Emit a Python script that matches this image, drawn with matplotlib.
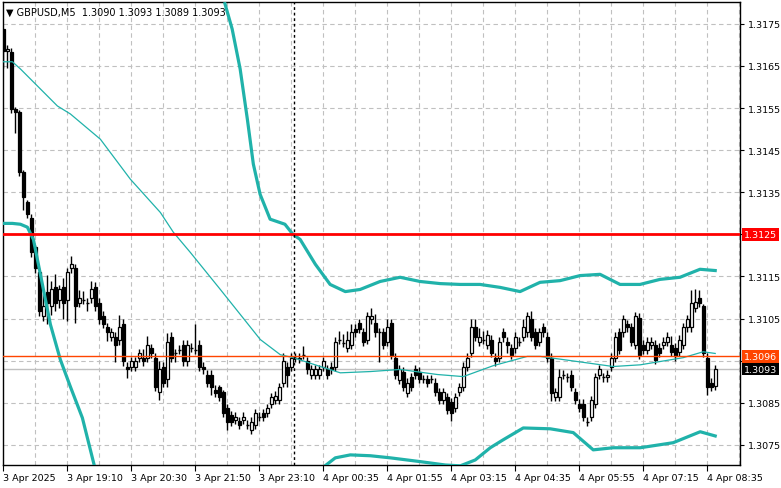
import matplotlib
matplotlib.use("Agg")
import matplotlib.pyplot as plt
import numpy as np

# GBPUSD M5 candles
opens = [
    1.31738, 1.31686, 1.31683, 1.31548, 1.31540, 1.31398, 1.31326, 1.31288, 1.31219, 1.31160,
    1.31055, 1.31114, 1.31079, 1.31126, 1.31095, 1.31126, 1.31095, 1.31169, 1.31169, 1.31088,
    1.31095, 1.31088, 1.31098, 1.31126, 1.31088, 1.31057, 1.31029, 1.31007, 1.31007, 1.30998,
    1.31038, 1.30936, 1.30936, 1.30936, 1.30957, 1.30957, 1.30957, 1.30979, 1.30957, 1.30876,
    1.30936, 1.30907, 1.31007, 1.30967, 1.30976, 1.30988, 1.30948, 1.30981, 1.30976, 1.30988,
    1.30936, 1.30917, 1.30917, 1.30881, 1.30888, 1.30876, 1.30838, 1.30821, 1.30810, 1.30807,
    1.30810, 1.30798, 1.30786, 1.30798, 1.30817, 1.30826, 1.30826, 1.30848, 1.30857, 1.30857,
    1.30898, 1.30936, 1.30936, 1.30957, 1.30957, 1.30964, 1.30948, 1.30917, 1.30917, 1.30917,
    1.30936, 1.30929, 1.30936, 1.30936, 1.31000, 1.30993, 1.30981, 1.30988, 1.31026, 1.31040,
    1.31017, 1.31000, 1.31048, 1.31040, 1.31017, 1.31017, 1.30995, 1.31040, 1.30957, 1.30905,
    1.30924, 1.30874, 1.30910, 1.30929, 1.30924, 1.30907, 1.30907, 1.30907, 1.30898, 1.30876,
    1.30857, 1.30864, 1.30852, 1.30838, 1.30876, 1.30888, 1.30936, 1.30969, 1.31029, 1.30995,
    1.31000, 1.30988, 1.31000, 1.30957, 1.30957, 1.31017, 1.30995, 1.30979, 1.30979, 1.30995,
    1.31007, 1.31017, 1.31048, 1.31017, 1.30995, 1.31029, 1.31007, 1.30957, 1.30864, 1.30864,
    1.30917, 1.30910, 1.30917, 1.30876, 1.30848, 1.30848, 1.30805, 1.30817, 1.30848, 1.30917,
    1.30910, 1.30910, 1.30936, 1.30957, 1.31017, 1.31017, 1.31036, 1.31029, 1.30988, 1.31052,
    1.30988, 1.30976, 1.30988, 1.30988, 1.30981, 1.30988, 1.30995, 1.30988, 1.30981, 1.30971,
    1.30988, 1.31029, 1.31029, 1.31076, 1.31098, 1.31079, 1.30957, 1.30898, 1.30890,
]
closes = [
    1.31686, 1.31690, 1.31548, 1.31540, 1.31398, 1.31338, 1.31298, 1.31207, 1.31169, 1.31067,
    1.31079, 1.31088, 1.31119, 1.31088, 1.31119, 1.31088, 1.31160, 1.31179, 1.31079, 1.31098,
    1.31095, 1.31088, 1.31119, 1.31079, 1.31048, 1.31038, 1.31017, 1.31017, 1.30986, 1.31029,
    1.30948, 1.30929, 1.30948, 1.30948, 1.30967, 1.30948, 1.30988, 1.30967, 1.30888, 1.30929,
    1.30898, 1.30995, 1.30957, 1.30967, 1.30976, 1.30948, 1.30988, 1.30981, 1.30976, 1.30936,
    1.30929, 1.30898, 1.30888, 1.30874, 1.30864, 1.30826, 1.30805, 1.30805, 1.30817, 1.30798,
    1.30817, 1.30798, 1.30805, 1.30826, 1.30817, 1.30817, 1.30838, 1.30864, 1.30867, 1.30888,
    1.30948, 1.30917, 1.30957, 1.30957, 1.30955, 1.30964, 1.30929, 1.30929, 1.30929, 1.30929,
    1.30948, 1.30917, 1.30929, 1.30995, 1.31000, 1.30993, 1.31000, 1.31017, 1.31017, 1.31026,
    1.30995, 1.31055, 1.31055, 1.31017, 1.31017, 1.30988, 1.31029, 1.30964, 1.30917, 1.30929,
    1.30888, 1.30898, 1.30888, 1.30917, 1.30907, 1.30907, 1.30898, 1.30907, 1.30876, 1.30857,
    1.30876, 1.30833, 1.30826, 1.30864, 1.30888, 1.30936, 1.30957, 1.31029, 1.31007, 1.31007,
    1.31000, 1.31012, 1.30969, 1.30948, 1.30995, 1.31005, 1.30988, 1.30964, 1.31007, 1.30995,
    1.31029, 1.31055, 1.31007, 1.30988, 1.31017, 1.31017, 1.30957, 1.30874, 1.30876, 1.30910,
    1.30917, 1.30910, 1.30888, 1.30857, 1.30838, 1.30817, 1.30805, 1.30857, 1.30910, 1.30929,
    1.30910, 1.30917, 1.30957, 1.31007, 1.30976, 1.31048, 1.31029, 1.30995, 1.31055, 1.30964,
    1.30976, 1.30995, 1.30995, 1.30952, 1.30969, 1.30995, 1.31007, 1.30971, 1.30960, 1.31000,
    1.31029, 1.31048, 1.31088, 1.31090, 1.31088, 1.30969, 1.30888, 1.30888, 1.30930,
]
# wick lengths in pips above / below the body
wick_up = [
    0, 1, 1, 0.5, 0.5, 0.5, 0.5, 1, 0.5, 1,
    3, 4, 2, 3, 1, 2, 1, 2, 1, 2,
    2, 1, 2, 1, 1, 1, 1, 1, 1, 3,
    1, 1, 1, 1, 1, 2, 2, 1, 1, 2,
    1, 2, 1, 1, 1, 1, 1, 1, 6, 1,
    1, 1, 1, 1, 0.5, 0.5, 1, 1, 1, 1,
    1, 1, 1, 1, 1, 1, 1, 1, 1, 1,
    2, 1, 1, 1, 1, 2, 1, 1, 1, 1,
    1, 1, 1, 1, 2, 2, 2, 2, 1, 1,
    1, 1, 2, 2, 1, 1, 2, 1, 1, 1,
    1, 1, 1, 1, 1, 1, 1, 1, 1, 1,
    1, 1, 1, 1, 1, 1, 1, 2, 2, 2,
    2, 1, 1, 1, 1, 1, 1, 1, 1, 1,
    2, 1, 2, 1, 1, 1, 1, 1, 1, 2,
    1, 1, 1, 1, 1, 1, 1, 1, 1, 1,
    1, 1, 1, 1, 1, 1, 1, 1, 1, 1,
    1, 1, 1, 1, 1, 1, 1, 2, 1, 1,
    1, 1, 3, 3, 2, 0.5, 1, 1, 1,
]
wick_dn = [
    4, 4, 1, 5, 1, 3, 1, 1, 1, 1,
    1, 5, 2, 2, 2, 4, 5, 1, 4, 1,
    1, 2, 1, 1, 1, 1, 2, 1, 4, 1,
    1, 2, 1, 1, 1, 1, 1, 1, 1, 2,
    1, 2, 1, 2, 1, 1, 1, 1, 1, 1,
    1, 1, 2, 1, 1, 1, 2, 1, 1, 1,
    1, 1, 1, 1, 1, 1, 1, 1, 1, 1,
    1, 3, 1, 1, 1, 1, 1, 1, 1, 1,
    1, 1, 1, 1, 1, 1, 1, 1, 1, 1,
    1, 1, 1, 1, 7, 1, 1, 1, 1, 1,
    1, 1, 1, 1, 1, 1, 1, 1, 1, 1,
    1, 1, 2, 1, 1, 1, 1, 1, 1, 1,
    1, 1, 1, 1, 1, 1, 2, 1, 1, 1,
    1, 1, 1, 1, 1, 1, 1, 2, 1, 1,
    1, 1, 1, 1, 1, 1, 1, 1, 1, 1,
    1, 1, 1, 1, 1, 1, 1, 1, 1, 1,
    1, 1, 1, 1, 1, 1, 1, 1, 1, 1,
    1, 1, 1, 1, 1, 1, 2, 1, 1,
]

# Bollinger bands sampled along the chart (bar index, price)
upper_idx = [55.4, 57.2, 59.2, 61, 62.5, 64.2, 66.7, 70.4, 72.4, 74.2, 78, 81.7, 85.5, 89.2, 94.2,
             99.2, 104.2, 109.2, 114.2, 119.2, 124.2, 129.2, 134.2, 139.2, 144.2, 149.2, 154.2,
             159.2, 164.2, 169.2, 174.2, 178]
upper_val = [1.31798, 1.31738, 1.31643, 1.31524, 1.31417, 1.31345, 1.31286, 1.31274, 1.31250,
             1.31238, 1.31179, 1.31131, 1.31114, 1.31119, 1.31138, 1.31148, 1.31138, 1.31133,
             1.31131, 1.31131, 1.31124, 1.31114, 1.31136, 1.31140, 1.31152, 1.31155, 1.31131,
             1.31131, 1.31143, 1.31148, 1.31167, 1.31164]
lower1_idx = [-0.75, 2.25, 4.25, 6, 7.5, 9.25, 11.75, 14.25, 16.75, 19.75, 21.75, 24.25]
lower1_val = [1.31276, 1.31276, 1.31274, 1.31267, 1.31238, 1.31155, 1.31036, 1.30952, 1.30888,
              1.30814, 1.30738, 1.30643]
lower2_idx = [78, 79.75, 83, 86.75, 91.75, 96.75, 104.25, 110.5, 114.25, 118, 121.75, 125, 130,
              136.75, 142.5, 147.5, 152.5, 159.25, 167.5, 174.25, 178]
lower2_val = [1.30643, 1.30695, 1.30719, 1.30726, 1.30724, 1.30719, 1.30710, 1.30702, 1.30700,
              1.30714, 1.30743, 1.30762, 1.30790, 1.30788, 1.30779, 1.30738, 1.30743, 1.30743,
              1.30755, 1.30781, 1.30771]
mid_idx = [0, 2.25, 4.25, 13.5, 16.75, 24.25, 31.75, 39.25, 42.5, 46.75, 54.25, 64.25, 69.25, 72.5,
           79.25, 84.25, 91.75, 99.25, 108.5, 115, 122.5, 131, 134.25, 152.5, 159.25, 170, 175, 178]
mid_val = [1.31660, 1.31660, 1.31643, 1.31555, 1.31536, 1.31476, 1.31381, 1.31302, 1.31255,
           1.31207, 1.31119, 1.31000, 1.30964, 1.30957, 1.30936, 1.30921, 1.30924, 1.30929,
           1.30917, 1.30912, 1.30938, 1.30960, 1.30960, 1.30936, 1.30940, 1.30957, 1.30971,
           1.30967]

price_ticks = [1.3075, 1.3085, 1.3095, 1.3105, 1.3115, 1.3125, 1.3135, 1.3145, 1.3155, 1.3165, 1.3175]
# labels hidden behind the level boxes
hidden_ticks = [1.3095, 1.3125]
time_pos = [0, 16, 32, 48, 64, 80, 96, 112, 128, 144, 160, 176]
time_labels = ["3 Apr 2025", "3 Apr 19:10", "3 Apr 20:30", "3 Apr 21:50", "3 Apr 23:10",
               "4 Apr 00:35", "4 Apr 01:55", "4 Apr 03:15", "4 Apr 04:35", "4 Apr 05:55",
               "4 Apr 07:15", "4 Apr 08:35"]
resistance = 1.3125
level = 1.3096
bid = 1.3093
separator = 72.7

W, H = 781, 489
fig = plt.figure(figsize=(W / 100, H / 100), dpi=100)
ax = fig.add_axes([3 / W, 23 / H, 737 / W, 463 / H])

o = np.array(opens)
c = np.array(closes)
x = np.arange(len(o))
pip = 0.0001
top = np.maximum(o, c)
bot = np.minimum(o, c)
hi = top + np.array(wick_up) * pip
lo = bot - np.array(wick_dn) * pip

grid_c = "#c0c0c0"
for p in price_ticks:
    ax.axhline(p, color=grid_c, lw=0.8, ls=(0, (4, 3)), zorder=0)
for g in range(8, 185, 8):
    ax.axvline(g, color=grid_c, lw=0.8, ls=(0, (4, 3)), zorder=0)

ax.vlines(x, lo, hi, color="black", lw=1, zorder=3)
bw = 0.7
up = c > o
dn = c < o
ax.bar(x[up], (top - bot)[up], bottom=bot[up], width=bw, facecolor="white",
       edgecolor="black", lw=0.9, zorder=4)
ax.bar(x[dn], (top - bot)[dn], bottom=bot[dn], width=bw, facecolor="black",
       edgecolor="black", lw=0.9, zorder=4)
doji = c == o
ax.hlines(c[doji], x[doji] - bw / 2, x[doji] + bw / 2, color="black", lw=1, zorder=4)

band_c = "#20b2aa"
ax.plot(upper_idx, upper_val, color=band_c, lw=2.3, zorder=5)
ax.plot(lower1_idx, lower1_val, color=band_c, lw=2.3, zorder=5)
ax.plot(lower2_idx, lower2_val, color=band_c, lw=2.3, zorder=5)
ax.plot(mid_idx, mid_val, color=band_c, lw=0.9, zorder=5)

ax.axhline(resistance, color="#ff0000", lw=2, zorder=6)
ax.axhline(level, color="#ff4500", lw=1, zorder=6)
ax.axhline(bid, color="#c0c0c0", lw=1, zorder=1)
ax.axvline(separator, color="black", lw=1, ls=(0, (2, 2)), zorder=6)

ax.set_xlim(-0.1, 184.2)
ax.set_ylim(1.30702, 1.31802)

ax.yaxis.tick_right()
ax.set_yticks(price_ticks)
ax.set_yticklabels(["" if p in hidden_ticks else f"{p:.4f}" for p in price_ticks], fontsize=6.8)
ax.tick_params(axis="y", length=3, pad=3, colors="black")
ax.set_xticks(time_pos)
ax.set_xticklabels(time_labels, fontsize=6.8, ha="left")
ax.tick_params(axis="x", length=4, pad=2)
for s in ax.spines.values():
    s.set_color("black")
    s.set_linewidth(1)

for val, fc, tc in [(resistance, "#ff0000", "white"), (level, "#ff4500", "white"),
                    (bid, "black", "white")]:
    ax.text(1.005, val, f"{val:.4f}", transform=ax.get_yaxis_transform(), fontsize=6.8,
            color=tc, va="center", ha="left",
            bbox=dict(boxstyle="square,pad=0.2", fc=fc, ec="none"), zorder=10)

ax.text(0.004, 0.978, "\u25bc GBPUSD,M5  1.3090 1.3093 1.3089 1.3093", transform=ax.transAxes,
        fontsize=7, va="center", ha="left")

fig.savefig("out.png", dpi=100)
